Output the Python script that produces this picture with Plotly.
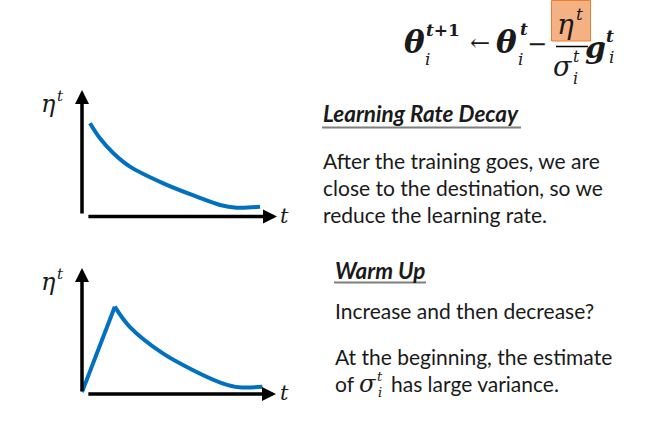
import plotly.graph_objects as go

W, H = 669, 423

# ---------------- data ----------------
decay_t = [0.41, 0.92, 1.61, 2.46, 4.17, 5.88, 7.08, 7.93, 9.13]
decay_eta = [7.37, 6.18, 5.00, 3.94, 2.62, 1.57, 0.91, 0.70, 0.77]

warm_ramp_t = [0.0, 1.69]
warm_ramp_eta = [0.15, 6.93]
warm_decay_t = [1.69, 2.46, 4.17, 5.88, 7.24, 8.10, 9.30]
warm_decay_eta = [6.93, 5.33, 3.22, 1.77, 0.85, 0.53, 0.58]

axis_len_t = 10.0
axis_len_eta = 10.0

title_top = "Learning Rate Decay"
lines_top = ["After the training goes, we are",
             "close to the destination, so we",
             "reduce the learning rate."]
title_bot = "Warm Up"
line_bot1 = "Increase and then decrease?"
line_bot2 = "At the beginning, the estimate"

BLUE = "#0070C0"
TXT = "#1a1a1a"
TEXT_FONT = "Lato"
MATH_FONT = "DejaVu Serif"
BODY = 21
HEAD = 22.5


def px(x):
    return x / W


def py(y):
    return 1 - y / H


# mapping of the two small charts (pixel origin, pixels per unit)
top = dict(ox=82, oy=216.5, sx=19.5, sy=12.65)
bot = dict(ox=82, oy=394.0, sx=19.4, sy=12.6)
xr = [-1.5, 11.5]
yr = [-1.5, 11.0]


def dom(m):
    xd = [px(m["ox"] + xr[0] * m["sx"]), px(m["ox"] + xr[1] * m["sx"])]
    yd = [py(m["oy"] - yr[0] * m["sy"]), py(m["oy"] - yr[1] * m["sy"])]
    return xd, yd


fig = go.Figure()
line = dict(color=BLUE, width=4)
fig.add_trace(go.Scatter(x=decay_t, y=decay_eta, mode="lines",
                         line=dict(line, shape="spline", smoothing=1.0),
                         xaxis="x", yaxis="y", hoverinfo="skip"))
fig.add_trace(go.Scatter(x=warm_ramp_t, y=warm_ramp_eta, mode="lines",
                         line=line, xaxis="x2", yaxis="y2", hoverinfo="skip"))
fig.add_trace(go.Scatter(x=warm_decay_t, y=warm_decay_eta, mode="lines",
                         line=dict(line, shape="spline", smoothing=1.0),
                         xaxis="x2", yaxis="y2", hoverinfo="skip"))

xd1, yd1 = dom(top)
xd2, yd2 = dom(bot)
hidden = dict(visible=False, fixedrange=True)
fig.update_layout(
    width=W, height=H, margin=dict(l=0, r=0, t=0, b=0),
    paper_bgcolor="white", plot_bgcolor="rgba(0,0,0,0)", showlegend=False,
    xaxis=dict(hidden, domain=xd1, range=xr, anchor="y"),
    yaxis=dict(hidden, domain=yd1, range=yr, anchor="x"),
    xaxis2=dict(hidden, domain=xd2, range=xr, anchor="y2"),
    yaxis2=dict(hidden, domain=yd2, range=yr, anchor="x2"),
)

ann = []
shapes = []

# axis arrows
for xa, ya in (("x", "y"), ("x2", "y2")):
    ann.append(dict(x=axis_len_t, y=0, ax=0.25, ay=0, xref=xa, yref=ya,
                    axref=xa, ayref=ya, text="", showarrow=True, arrowhead=2,
                    arrowsize=0.8, arrowwidth=3.5, arrowcolor="black", standoff=0))
    ann.append(dict(x=0, y=axis_len_eta, ax=0, ay=0.12, xref=xa, yref=ya,
                    axref=xa, ayref=ya, text="", showarrow=True, arrowhead=2,
                    arrowsize=0.8, arrowwidth=3.5, arrowcolor="black", standoff=0))


def txt(x, y, s, size, family=TEXT_FONT, xanchor="left", color=TXT):
    ann.append(dict(x=px(x), y=py(y), xref="paper", yref="paper", text=s,
                    showarrow=False, xanchor=xanchor, yanchor="middle",
                    font=dict(family=family, size=size, color=color)))


# chart labels
for oy in (top["oy"], bot["oy"]):
    txt(48, oy - 112, "<i>η</i>", 24, MATH_FONT, "center")
    txt(60, oy - 120, "<i>t</i>", 15, MATH_FONT, "center")
    txt(284, oy - 1, "<i>t</i>", 21, MATH_FONT, "center")

# formula
shapes.append(dict(type="rect", xref="paper", yref="paper",
                   x0=px(551.5), x1=px(590.5), y0=py(41), y1=py(0.5),
                   fillcolor="#F4B183", line=dict(color="#ED7D31", width=1)))
shapes.append(dict(type="line", xref="paper", yref="paper",
                   x0=px(556), x1=px(588), y0=py(46.5), y1=py(46.5),
                   line=dict(color="black", width=1.5)))
txt(414, 42, "<b><i>θ</i></b>", 31, MATH_FONT, "center")
txt(443, 30, "<b><i>t</i>+1</b>", 17, MATH_FONT, "center")
txt(427, 59, "<i>i</i>", 17, MATH_FONT, "center")
txt(480, 43, "←", 24, MATH_FONT, "center")
txt(506, 42, "<b><i>θ</i></b>", 31, MATH_FONT, "center")
txt(524, 29, "<b><i>t</i></b>", 17, MATH_FONT, "center")
txt(520, 59, "<i>i</i>", 17, MATH_FONT, "center")
txt(537, 44, "−", 24, MATH_FONT, "center")
txt(565, 25, "<i>η</i>", 28, MATH_FONT, "center")
txt(579, 14, "<i>t</i>", 17, MATH_FONT, "center")
txt(563, 66, "<i>σ</i>", 27, MATH_FONT, "center")
txt(576, 57, "<i>t</i>", 16, MATH_FONT, "center")
txt(575, 78, "<i>i</i>", 16, MATH_FONT, "center")
txt(595, 48, "<b><i>g</i></b>", 30, MATH_FONT, "center")
txt(610, 36, "<b><i>t</i></b>", 17, MATH_FONT, "center")
txt(611, 57, "<i>i</i>", 17, MATH_FONT, "center")

# right-hand text
txt(321, 114, "<b><i>" + title_top + "</i></b>", HEAD)
shapes.append(dict(type="line", xref="paper", yref="paper",
                   x0=px(322), x1=px(521), y0=py(127.5), y1=py(127.5),
                   line=dict(color="#7f7f7f", width=2)))
for i, s in enumerate(lines_top):
    txt(321, 160 + i * 27.5, s, BODY)

txt(333, 270, "<b><i>" + title_bot + "</i></b>", HEAD)
shapes.append(dict(type="line", xref="paper", yref="paper",
                   x0=px(334), x1=px(426), y0=py(282.5), y1=py(282.5),
                   line=dict(color="#7f7f7f", width=2)))
txt(333, 310, line_bot1, BODY)
txt(333, 356, line_bot2, BODY)
txt(333, 383, "of", BODY)
txt(367, 384, "<i>σ</i>", 24, MATH_FONT, "center")
txt(380, 376, "<i>t</i>", 13, MATH_FONT, "center")
txt(380, 392, "<i>i</i>", 13, MATH_FONT, "center")
txt(389, 383, "has large variance.", BODY)

fig.update_layout(annotations=ann, shapes=shapes)
fig.write_html("out.html")
